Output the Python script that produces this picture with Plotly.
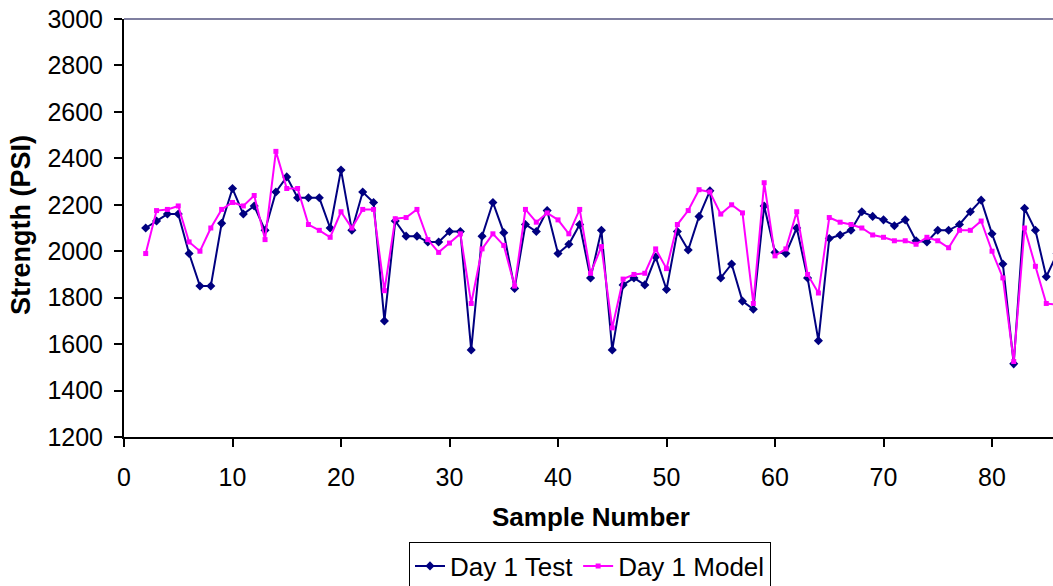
import plotly.graph_objects as go

sample = list(range(2, 87))
day1_test = [2100, 2130, 2160, 2160, 1990, 1850, 1850, 2120, 2270, 2160,
             2195, 2090, 2255, 2320, 2230, 2230, 2230, 2100, 2350, 2090,
             2255, 2210, 1700, 2130, 2065, 2065, 2040, 2040, 2085, 2085,
             1575, 2065, 2210, 2080, 1840, 2115, 2085, 2175, 1990, 2030,
             2115, 1885, 2090, 1575, 1855, 1885, 1855, 1975, 1835, 2085,
             2005, 2150, 2260, 1885, 1945, 1785, 1750, 2195, 1995, 1990,
             2100, 1885, 1615, 2055, 2070, 2090, 2170, 2150, 2135, 2110,
             2135, 2045, 2040, 2090, 2090, 2115, 2170, 2220, 2075, 1945,
             1515, 2185, 2090, 1890, 1990]
day1_model = [1990, 2175, 2180, 2195, 2040, 2000, 2100, 2180, 2210, 2195,
              2240, 2050, 2430, 2270, 2270, 2115, 2090, 2060, 2170, 2100,
              2180, 2180, 1830, 2140, 2145, 2180, 2050, 1995, 2035, 2075,
              1775, 2010, 2075, 2025, 1850, 2180, 2125, 2165, 2135, 2075,
              2180, 1905, 2020, 1670, 1880, 1900, 1905, 2010, 1925, 2115,
              2175, 2265, 2255, 2160, 2200, 2165, 1775, 2295, 1980, 2010,
              2170, 1900, 1820, 2145, 2125, 2115, 2100, 2070, 2060, 2045,
              2045, 2030, 2060, 2045, 2015, 2090, 2090, 2130, 2000, 1885,
              1525, 2100, 1935, 1775, 1770]

x_ticks = [0, 10, 20, 30, 40, 50, 60, 70, 80]
y_ticks = [1200, 1400, 1600, 1800, 2000, 2200, 2400, 2600, 2800, 3000]

FONT = "Liberation Sans, Arial, sans-serif"

fig = go.Figure()
fig.add_trace(go.Scatter(
    x=sample, y=day1_test, name="Day 1 Test", mode="lines+markers",
    line=dict(color="#000080", width=2),
    marker=dict(symbol="diamond", size=7, color="#000080"),
))
fig.add_trace(go.Scatter(
    x=sample, y=day1_model, name="Day 1 Model", mode="lines+markers",
    line=dict(color="#FF00FF", width=2),
    marker=dict(symbol="square", size=5, color="#FF00FF"),
))

fig.update_layout(
    width=1053, height=586,
    margin=dict(l=124, r=0, t=19, b=149, autoexpand=False),
    paper_bgcolor="white", plot_bgcolor="white",
    font=dict(family=FONT, size=25, color="black"),
    showlegend=True,
    legend=dict(
        orientation="h", x=(590 - 124) / 929, xanchor="center",
        y=-(566 - 437) / 418, yanchor="middle",
        bordercolor="black", borderwidth=1, font=dict(size=26),
        itemwidth=30, tracegroupgap=0,
    ),
    xaxis=dict(
        range=[0, 85.62], tickvals=x_ticks, showgrid=False, zeroline=False,
        showline=True, linecolor="black", linewidth=2, automargin=False,
        ticks="outside", ticklen=8, tickwidth=1.5, tickcolor="black",
        tickfont=dict(size=25), ticklabelstandoff=9,
    ),
    yaxis=dict(
        range=[1200, 3000], tickvals=y_ticks, showgrid=False, zeroline=False,
        showline=True, linecolor="black", linewidth=2, automargin=False,
        ticks="outside", ticklen=8, tickwidth=1.5, tickcolor="black",
        tickfont=dict(size=25), ticklabelstandoff=6, ticklabeloverflow="allow",
    ),
    shapes=[dict(type="line", xref="paper", yref="paper", x0=0, x1=1, y0=1, y1=1,
                 line=dict(color="#7f7fa0", width=2))],
    annotations=[
        dict(text="<b>Sample Number</b>", xref="paper", yref="paper",
             x=(591 - 124) / 929, y=-(517 - 437) / 418, xanchor="center", yanchor="middle",
             showarrow=False, font=dict(size=26)),
        dict(text="<b>Strength (PSI)</b>", xref="paper", yref="paper",
             x=-(124 - 21) / 929, y=(437 - 225) / 418, xanchor="center", yanchor="middle",
             textangle=-90, showarrow=False, font=dict(size=27)),
    ],
)

fig.write_html(
    "out.html",
    config={"displayModeBar": False},
    post_script="document.body.style.margin='0';document.body.style.overflow='hidden';",
)
